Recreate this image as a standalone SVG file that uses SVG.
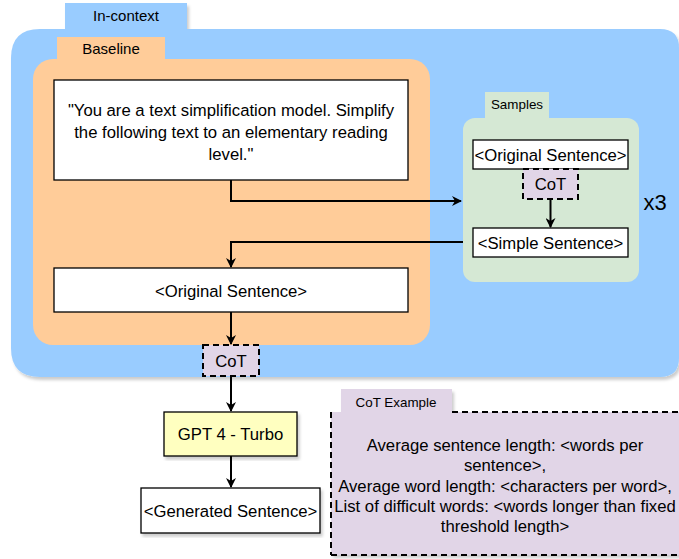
<svg xmlns="http://www.w3.org/2000/svg" width="679" height="559" viewBox="0 0 679 559">
<style>
text{font-family:"Liberation Sans",Arial,sans-serif;fill:#000;text-anchor:middle}
.t15{font-size:15px}
.t16{font-size:16.7px}
.t13{font-size:13.4px}
.box{fill:#fff;stroke:#000;stroke-width:1.3}
.dash{stroke:#000;stroke-width:2;stroke-dasharray:6,4}
.edge{fill:none;stroke:#000;stroke-width:2}
</style>
<defs>
<filter id="sh" x="-5%" y="-5%" width="115%" height="115%">
<feDropShadow dx="2" dy="3" stdDeviation="1.5" flood-color="#000" flood-opacity="0.2"/>
</filter>
<marker id="ah" viewBox="0 0 10 10" refX="9" refY="5" markerWidth="10" markerHeight="10" markerUnits="userSpaceOnUse" orient="auto">
<path d="M0,0 L10,5 L0,10 L3,5 Z" fill="#000"/>
</marker>
</defs>
<g id="in-context">
<g filter="url(#sh)">
<rect x="65" y="3" width="122" height="30" fill="#99CCFF"/>
<path d="M40,29 H660 Q679,29 679,48 V358 Q679,377 660,377 H40 Q11,377 11,348 V58 Q11,29 40,29 Z" fill="#99CCFF"/>
</g>
<text class="t15" x="126" y="21">In-context</text>
</g>
<g id="baseline">
<rect x="57" y="37" width="108" height="26" fill="#FFCC99"/>
<rect x="33" y="59" width="397" height="286" rx="20" fill="#FFCC99"/>
<text class="t15" x="111" y="54">Baseline</text>
</g>
<g id="prompt">
<rect class="box" x="54" y="80" width="354" height="100"/>
<text class="t16" x="231" y="116">"You are a text simplification model. Simplify</text>
<text class="t16" x="231" y="138">the following text to an elementary reading</text>
<text class="t16" x="231" y="160">level."</text>
</g>
<g id="original-sentence">
<rect class="box" x="54" y="268" width="354" height="44"/>
<text class="t16" x="231" y="297">&lt;Original Sentence&gt;</text>
</g>
<g id="samples">
<rect x="485" y="92" width="64" height="30" fill="#D5E8D4"/>
<rect x="463" y="118" width="176" height="164" rx="12" fill="#D5E8D4"/>
<text class="t13" x="517" y="109">Samples</text>
</g>
<g id="sample-original">
<rect class="box" x="473" y="140" width="155" height="29"/>
<text class="t16" x="550.5" y="160.5">&lt;Original Sentence&gt;</text>
</g>
<g id="sample-cot">
<rect class="dash" x="523" y="169" width="55" height="30" fill="#E1D5E7"/>
<text class="t16" x="550.5" y="190">CoT</text>
</g>
<g id="sample-simple">
<rect class="box" x="473" y="228" width="155" height="29"/>
<text class="t16" x="550.5" y="248.5">&lt;Simple Sentence&gt;</text>
</g>
<g id="x3">
<text x="655" y="210" style="font-size:22px">x3</text>
</g>
<g id="cot">
<rect class="dash" x="203" y="345" width="56" height="31" fill="#E1D5E7"/>
<text class="t16" x="231" y="366.5">CoT</text>
</g>
<g id="gpt">
<rect x="164" y="412" width="133" height="44" fill="#FFFFC0" stroke="#000" stroke-width="1.3" filter="url(#sh)"/>
<text class="t16" x="230.5" y="440">GPT 4 - Turbo</text>
</g>
<g id="generated">
<rect class="box" x="141" y="488" width="179" height="45" filter="url(#sh)"/>
<text class="t16" x="230.5" y="516.5">&lt;Generated Sentence&gt;</text>
</g>
<g id="cot-example">
<g filter="url(#sh)">
<rect x="341" y="389" width="111" height="26" fill="#E1D5E7"/>
<rect x="331" y="412" width="360" height="143" fill="#E1D5E7"/>
</g>
<path class="dash" d="M452,412 H690 M331,555 H690 M331,412 V555" fill="none"/>
<text class="t13" x="396" y="407">CoT Example</text>
<text class="t16" x="505" y="451">Average sentence length: &lt;words per</text>
<text class="t16" x="505" y="471">sentence&gt;,</text>
<text class="t16" x="505" y="492">Average word length: &lt;characters per word&gt;,</text>
<text class="t16" x="505" y="512">List of difficult words: &lt;words longer than fixed</text>
<text class="t16" x="505" y="532">threshold length&gt;</text>
</g>
<g id="connectors">
<path class="edge" d="M231,180 V201 H461" marker-end="url(#ah)"/>
<path class="edge" d="M463,242 H231 V267" marker-end="url(#ah)"/>
<path class="edge" d="M231,312 V344" marker-end="url(#ah)"/>
<path class="edge" d="M231,376 V411" marker-end="url(#ah)"/>
<path class="edge" d="M231,456 V487" marker-end="url(#ah)"/>
<path class="edge" d="M550.5,199 V227" marker-end="url(#ah)"/>
</g>
</svg>
